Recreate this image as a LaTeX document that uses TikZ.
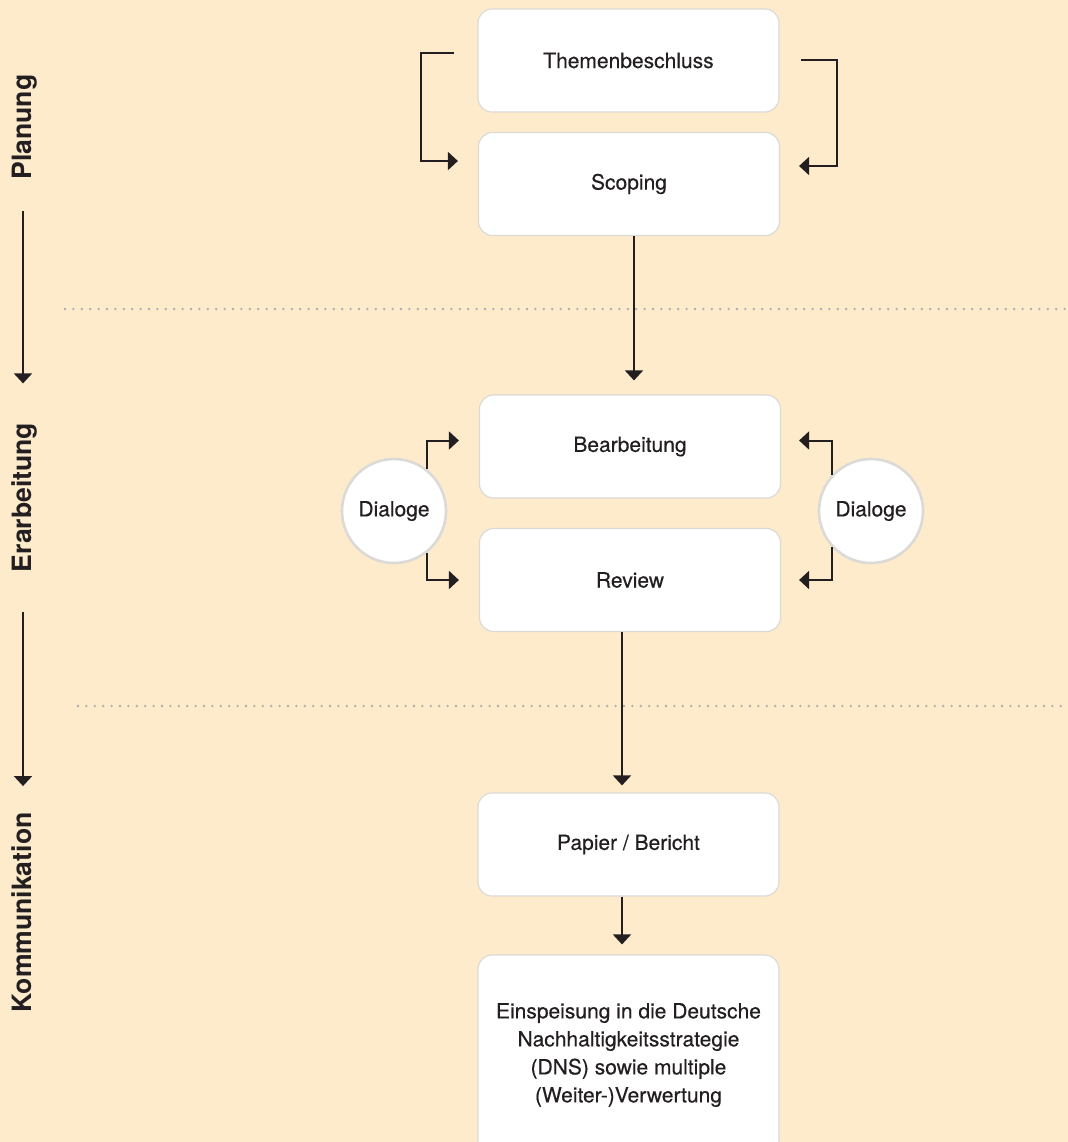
\documentclass[tikz,border=0pt]{standalone}
\usepackage{fontspec}
\setmainfont{TeX Gyre Heros}
\newfontfamily\medfont{TeX Gyre Heros}[FakeBold=0.4]
\usetikzlibrary{arrows.meta}
\definecolor{bgpeach}{HTML}{FEEBCC}
\definecolor{edgegray}{HTML}{DCDAD6}
\definecolor{dotgray}{HTML}{A9ACB2}
\definecolor{inkdark}{HTML}{231F20}

\begin{document}
\begin{tikzpicture}[x=0.5pt, y=-0.5pt,
    stage/.style ={rectangle, rounded corners=7pt, draw=edgegray, line width=0.6pt, fill=white,
      minimum width=150.5pt, minimum height=51.5pt, align=center, text=inkdark,
      font=\medfont\fontsize{10.5}{14}\selectfont},
    dialog/.style ={circle, draw=edgegray, line width=1.3pt, fill=white, minimum size=52pt,
      inner sep=0pt, text=inkdark, font=\medfont\fontsize{10.5}{14}\selectfont},
    phase/.style ={rotate=90, anchor=base, inner sep=0pt, text=inkdark,
      font=\bfseries\fontsize{13.3}{15}\selectfont},
    flow/.style ={draw=inkdark, line width=1pt, -{Triangle[length=5pt,width=9pt]}},
    divider/.style ={draw=dotgray, line width=1.3pt, line cap=round, dash pattern=on 0pt off 4.2pt}]
   \fill[bgpeach] (0,0) rectangle (1068,1142);
   \useasboundingbox (0,0) rectangle (1068,1142);
   \draw[divider] (65,309) -- (1068,309);
   \draw[divider] (78,706) -- (1068,706);
   \node[phase] (plan) at (32,127) {Planung};
   \node[phase] (erar) at (32,497.5) {Erarbeitung};
   \node[phase] (komm) at (32,912.5) {Kommunikation};
   \node[stage] (them) at (628.5,60.5) {Themenbeschluss};
   \node[stage] (scop) at (629,184) {Scoping};
   \node[stage] (bear) at (630,446.5) {Bearbeitung};
   \node[stage] (rev) at (630,580) {Review};
   \node[stage] (pap) at (628.5,844.5) {Papier / Bericht};
   \node[stage, minimum height=100pt] (eins) at (628.5,1055) {Einspeisung in die Deutsche\\
     Nachhaltigkeitsstrategie\\ (DNS) sowie multiple\\ (Weiter-)Verwertung};
   \node[dialog] (dialL) at (394,511) {Dialoge};
   \node[dialog] (dialR) at (871,511) {Dialoge};
   \draw[flow, shorten <=15.5pt, shorten >=19.5pt] ([xshift=-4.5pt]plan.base west) -- ([xshift=-4.5pt]erar.base east);
   \draw[flow, shorten <=19.5pt, shorten >=13pt] ([xshift=-4.5pt]erar.base west) -- ([xshift=-4.5pt]komm.base east);
   \draw[flow] ([shift={(-11.5pt,4pt)}]them.west) -- ++(-16.5pt,0pt) |- ([shift={(-10pt,11.5pt)}]scop.west);
   \draw[flow] ([shift={(10.5pt,0.5pt)}]them.east) -- ++(18pt,0pt) |- ([shift={(9.5pt,9pt)}]scop.east);
   \draw[flow, shorten >=7pt] ([xshift=2.5pt]scop.south) -- ([xshift=2.5pt]scop.south |- bear.north);
   \draw[flow] (dialL.52) |- ([shift={(-10pt,3pt)}]bear.west);
   \draw[flow] (dialL.-52) |- ([xshift=-10pt]rev.west);
   \draw[flow] (dialR.137) |- ([shift={(9pt,3pt)}]bear.east);
   \draw[flow] (dialR.-137) |- ([xshift=9pt]rev.east);
   \draw[flow, shorten >=3.5pt] ([xshift=-4pt]rev.south) -- ([xshift=-4pt]rev.south |- pap.north);
   \draw[flow, shorten >=5pt] ([xshift=-3.25pt]pap.south) -- ([xshift=-3.25pt]eins.north);
 \end{tikzpicture}
\end{document}
